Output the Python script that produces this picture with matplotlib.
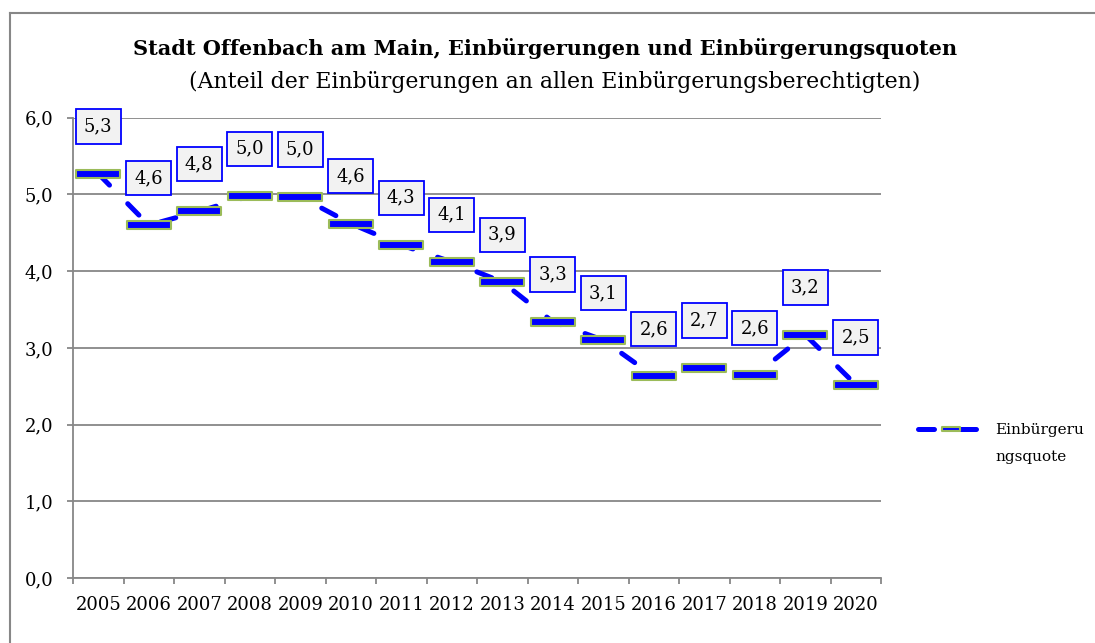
"""Einbürgerungsquote Stadt Offenbach am Main, 2005-2020."""

import matplotlib

matplotlib.use("Agg")

import matplotlib.pyplot as plt
from matplotlib.lines import Line2D
from matplotlib.path import Path
from matplotlib.ticker import FixedLocator, FuncFormatter

YEARS = ["2005", "2006", "2007", "2008", "2009", "2010", "2011", "2012",
         "2013", "2014", "2015", "2016", "2017", "2018", "2019", "2020"]
QUOTE = [5.27, 4.60, 4.78, 4.98, 4.97, 4.62, 4.34, 4.12,
         3.86, 3.34, 3.10, 2.63, 2.74, 2.64, 3.17, 2.52]
Y_TICKS = [0, 1, 2, 3, 4, 5, 6]

TITLE = "Stadt Offenbach am Main, Einbürgerungen und Einbürgerungsquoten"
SUBTITLE = "(Anteil der Einbürgerungen an allen Einbürgerungsberechtigten)"
# Excel wrapped the series name over two lines
SERIES_LABEL = ["Einbürgeru", "ngsquote"]

BLUE = "#0000FF"
GREEN = "#9BBB59"
GREY = "#878787"

plt.rcParams["font.family"] = ["DejaVu Serif"]

# flat wide rectangle like the Excel "dash" marker
BAR_MARKER = Path([(-1, -0.2), (1, -0.2), (1, 0.2), (-1, 0.2), (-1, -0.2)],
                  [Path.MOVETO, Path.LINETO, Path.LINETO, Path.LINETO, Path.CLOSEPOLY])


def comma(value, _pos=None):
    return f"{value:.1f}".replace(".", ",")


fig = plt.figure(figsize=(10.95, 6.43), dpi=100)
ax = fig.add_axes([0.0667, 0.1011, 0.7379, 0.7158])

x = list(range(len(YEARS)))
line, = ax.plot(x, QUOTE, color=BLUE, linewidth=3.6, linestyle=(0, (3.2, 5.2)),
                dash_capstyle="round", marker=BAR_MARKER, markersize=32,
                markerfacecolor=BLUE, markeredgecolor=GREEN, markeredgewidth=1.5,
                zorder=3, label=SERIES_LABEL[0])

for xi, val in zip(x, QUOTE):
    ax.annotate(comma(val), (xi, val), xytext=(0, 34), textcoords="offset points",
                ha="center", va="center", fontsize=13, zorder=5,
                bbox=dict(boxstyle="square,pad=0.45", facecolor="#F2F2F2",
                          edgecolor=BLUE, linewidth=1.3))

ax.set_xlim(-0.5, len(YEARS) - 0.5)
ax.set_ylim(0, 6)
ax.set_xticks(x)
ax.set_xticklabels(YEARS)
ax.xaxis.set_minor_locator(FixedLocator([i - 0.5 for i in range(len(YEARS) + 1)]))
ax.tick_params(axis="x", which="major", length=0, pad=13, labelsize=13)
ax.tick_params(axis="x", which="minor", length=4.3, width=1.3, color=GREY)
ax.set_yticks(Y_TICKS)
ax.yaxis.set_major_formatter(FuncFormatter(comma))
ax.tick_params(axis="y", length=4.3, width=1.3, color=GREY, pad=10, labelsize=13)

ax.grid(axis="y", color=GREY, linewidth=1.3)
ax.set_axisbelow(True)
for side in ("top", "right"):
    ax.spines[side].set_visible(False)
for side in ("left", "bottom"):
    ax.spines[side].set_color(GREY)
    ax.spines[side].set_linewidth(1.3)

fig.text(0.4977, 0.9238, TITLE, ha="center", va="center", fontsize=15, fontweight="bold")
fig.text(0.5068, 0.8725, SUBTITLE, ha="center", va="center", fontsize=15.8)

leg = ax.legend(handles=[line], loc="center left", bbox_to_anchor=(0.8384, 0.3313),
                bbox_transform=fig.transFigure, frameon=False, fontsize=11,
                handlelength=4.3, handletextpad=0.72, borderpad=0, borderaxespad=0,
                markerscale=0.42)
fig.text(0.9087, 1 - 457 / 643, SERIES_LABEL[1], ha="left", va="center", fontsize=11)

# chart area outline (only top and left edges are visible in the crop)
top = 1 - 13 / 643
left = 10 / 1095
fig.add_artist(Line2D([left, 1], [top, top], color=GREY, linewidth=1.5,
                      transform=fig.transFigure))
fig.add_artist(Line2D([left, left], [0, top], color=GREY, linewidth=1.5,
                      transform=fig.transFigure))

fig.savefig("out.png", dpi=100)
